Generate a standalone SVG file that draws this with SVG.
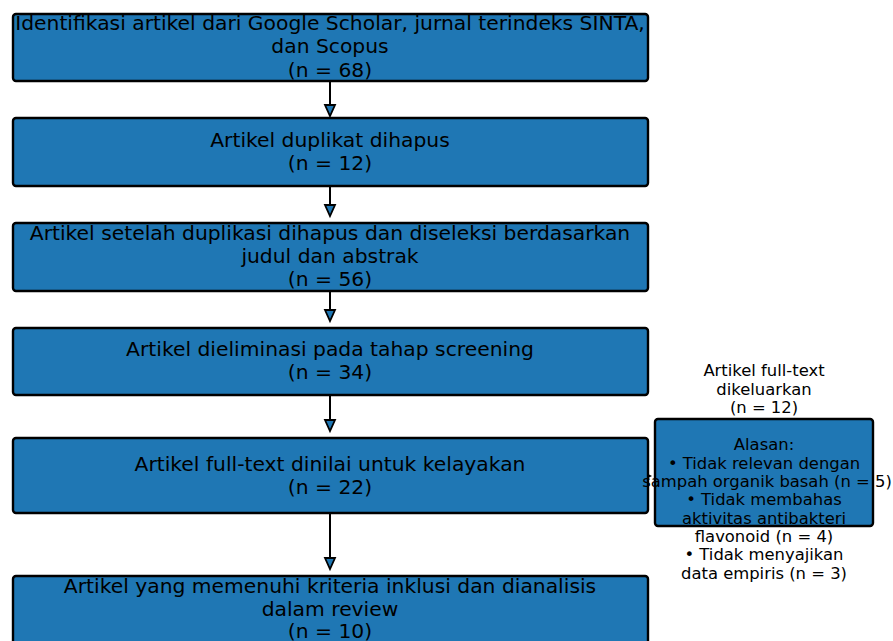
<svg xmlns="http://www.w3.org/2000/svg" width="893" height="641" viewBox="0 0 893 641">
<defs>
<style>
.box{fill:#1f77b4;stroke:#000;stroke-width:2.4}
.t{font-family:"DejaVu Sans",sans-serif;font-size:20.3px;fill:#000;text-anchor:middle;dominant-baseline:central}
.s{font-family:"DejaVu Sans",sans-serif;font-size:16.4px;fill:#000;text-anchor:middle;dominant-baseline:central}
.ln{stroke:#000;stroke-width:2;fill:none}
.hd{fill:#1f77b4;stroke:#000;stroke-width:1.8;stroke-linejoin:miter}
</style>
</defs>
<rect width="893" height="641" fill="#fff"/>
<g id="connectors">
<line class="ln" x1="330" y1="81" x2="330" y2="105"/>
<path class="hd" d="M325,105 L335,105 L330,116 Z"/>
<line class="ln" x1="330" y1="186" x2="330" y2="205"/>
<path class="hd" d="M325,205 L335,205 L330,216 Z"/>
<line class="ln" x1="330" y1="291" x2="330" y2="310"/>
<path class="hd" d="M325,310 L335,310 L330,321 Z"/>
<line class="ln" x1="330" y1="395" x2="330" y2="420"/>
<path class="hd" d="M325,420 L335,420 L330,431 Z"/>
<line class="ln" x1="330" y1="513" x2="330" y2="558"/>
<path class="hd" d="M325,558 L335,558 L330,569 Z"/>
<path class="hd" d="M640,471 L640,481 L650,476 Z"/>
</g>
<g id="n1">
<rect class="box" x="13" y="14" width="635" height="67" rx="3"/>
<text class="t" x="330" y="23">Identifikasi artikel dari Google Scholar, jurnal terindeks SINTA,</text>
<text class="t" x="330" y="46">dan Scopus</text>
<text class="t" x="330" y="70">(n = 68)</text>
</g>
<g id="n2">
<rect class="box" x="13" y="118" width="635" height="68" rx="3"/>
<text class="t" x="330" y="140">Artikel duplikat dihapus</text>
<text class="t" x="330" y="163">(n = 12)</text>
</g>
<g id="n3">
<rect class="box" x="13" y="223" width="635" height="68" rx="3"/>
<text class="t" x="330" y="233">Artikel setelah duplikasi dihapus dan diseleksi berdasarkan</text>
<text class="t" x="330" y="256">judul dan abstrak</text>
<text class="t" x="330" y="279">(n = 56)</text>
</g>
<g id="n4">
<rect class="box" x="13" y="328" width="635" height="67" rx="3"/>
<text class="t" x="330" y="349">Artikel dieliminasi pada tahap screening</text>
<text class="t" x="330" y="372">(n = 34)</text>
</g>
<g id="n5">
<rect class="box" x="13" y="438" width="635" height="75" rx="3"/>
<text class="t" x="330" y="464">Artikel full-text dinilai untuk kelayakan</text>
<text class="t" x="330" y="487">(n = 22)</text>
</g>
<g id="n6">
<rect class="box" x="13" y="576" width="635" height="80" rx="3"/>
<text class="t" x="330" y="586">Artikel yang memenuhi kriteria inklusi dan dianalisis</text>
<text class="t" x="330" y="609">dalam review</text>
<text class="t" x="330" y="631">(n = 10)</text>
</g>
<g id="excluded-label">
<text class="s" x="764" y="370">Artikel full-text</text>
<text class="s" x="764" y="389">dikeluarkan</text>
<text class="s" x="764" y="407">(n = 12)</text>
</g>
<g id="n7">
<rect class="box" x="655" y="419" width="218" height="107" rx="3"/>
<text class="s" x="764" y="444">Alasan:</text>
<text class="s" x="764" y="463">• Tidak relevan dengan</text>
<text class="s" x="767" y="481">sampah organik basah (n = 5)</text>
<text class="s" x="764" y="499">• Tidak membahas</text>
<text class="s" x="764" y="518">aktivitas antibakteri</text>
<text class="s" x="764" y="536">flavonoid (n = 4)</text>
<text class="s" x="764" y="554">• Tidak menyajikan</text>
<text class="s" x="764" y="573">data empiris (n = 3)</text>
</g>
</svg>
